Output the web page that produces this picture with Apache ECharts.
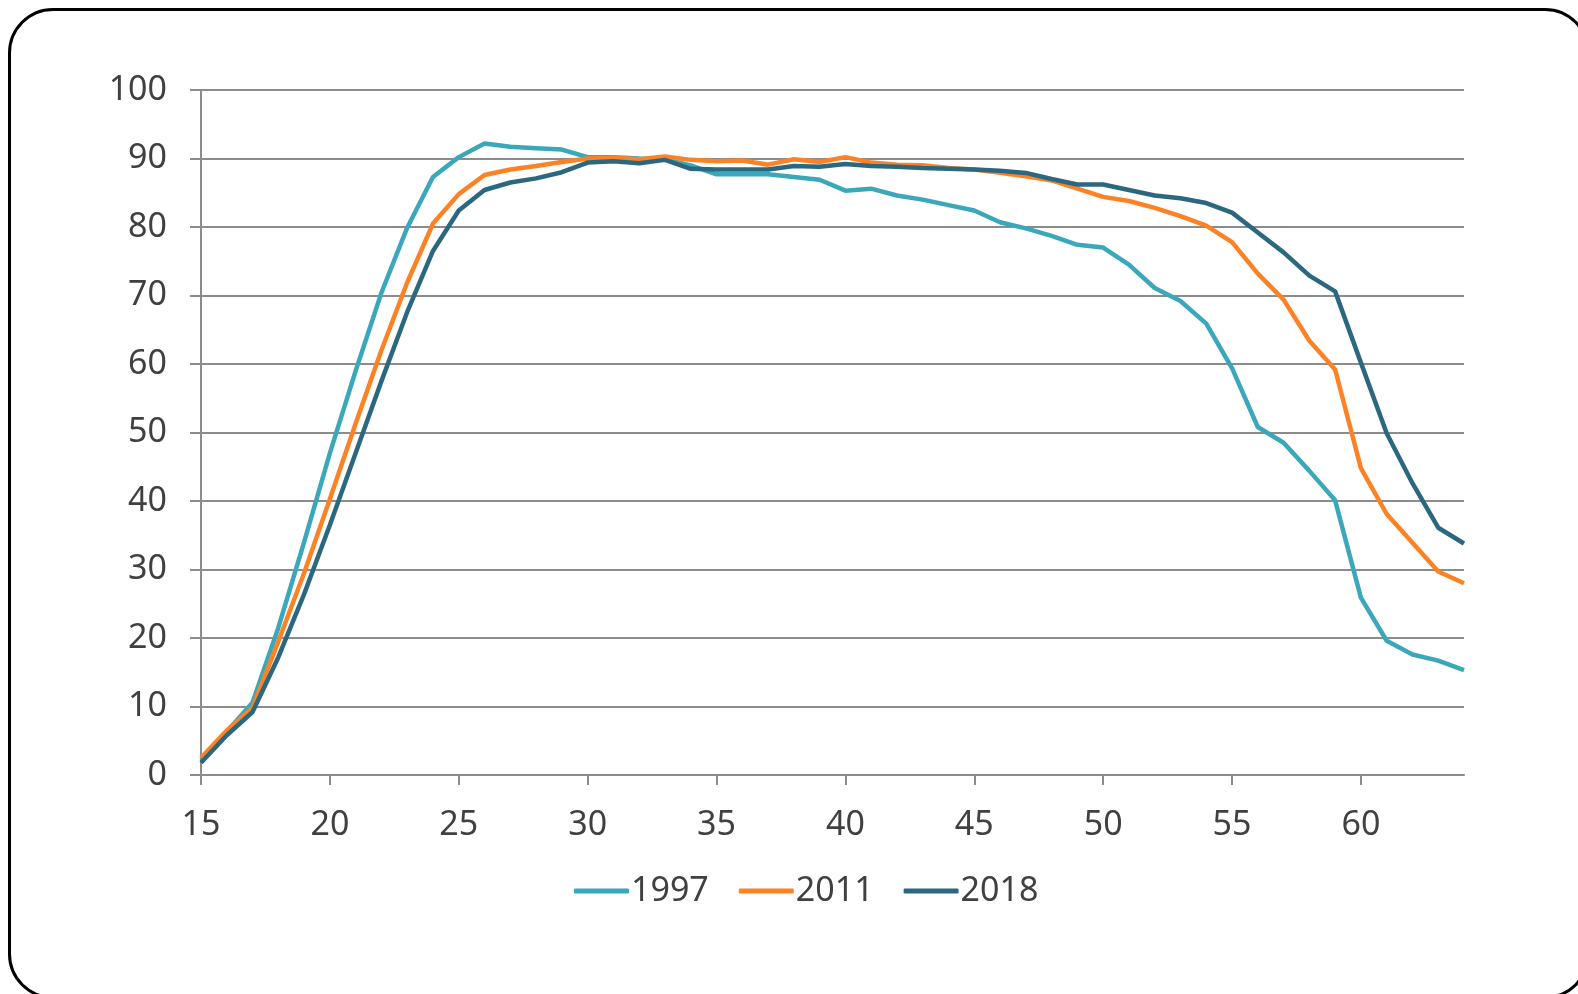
<!DOCTYPE html>
<html lang="en">

<head>
	<meta charset="utf-8">
	<title>Participation by age</title>
	<style>
		html, body { margin: 0; padding: 0; background: #fff; overflow: hidden; }
		/* rounded frame round the chart */
		.frame {
			position: absolute; left: 8px; top: 8px;
			width: 1582px; height: 991px; box-sizing: border-box;
			border: 3px solid #000; border-radius: 45px;
		}
		#panel { position: absolute; left: 0; top: 0; width: 1578px; height: 994px; }
	</style>
	<script src="https://cdn.jsdelivr.net/npm/echarts@6/dist/echarts.min.js"></script>
</head>

<body>
	<div class="frame"></div>
	<div id="panel"></div>
	<script type="text/javascript">
		// ages on the x axis
		const ages = [];
		for (let a = 15; a <= 64; a++) ages.push(String(a));

		// values, one per age 15..64
		const y1997 = [2.2, 6.3, 10.6, 21.5, 34.0, 47.0, 59.0, 70.4, 79.9, 87.3,
			90.2, 92.2, 91.7, 91.5, 91.3, 90.2, 90.2, 90.0, 89.9, 89.0,
			87.7, 87.7, 87.7, 87.3, 86.9, 85.3, 85.6, 84.6, 84.0, 83.2,
			82.4, 80.7, 79.8, 78.7, 77.4, 77.0, 74.5, 71.1, 69.2, 65.9,
			59.4, 50.8, 48.5, 44.4, 40.1, 25.9, 19.6, 17.6, 16.7, 15.3];
		const y2011 = [2.5, 6.5, 9.8, 19.5, 29.5, 40.3, 51.3, 62.0, 71.9, 80.5,
			84.8, 87.6, 88.4, 88.9, 89.5, 90.0, 90.1, 89.9, 90.3, 89.8,
			89.6, 89.7, 89.1, 89.9, 89.5, 90.2, 89.4, 89.1, 89.0, 88.6,
			88.4, 87.9, 87.4, 86.8, 85.6, 84.4, 83.8, 82.8, 81.6, 80.2,
			77.8, 73.2, 69.4, 63.4, 59.2, 44.8, 38.1, 33.9, 29.7, 28.0];
		const y2018 = [1.8, 5.8, 9.2, 17.2, 26.4, 36.5, 47.0, 57.5, 67.6, 76.5,
			82.4, 85.4, 86.5, 87.1, 88.0, 89.4, 89.6, 89.3, 89.8, 88.5,
			88.4, 88.4, 88.4, 88.9, 88.8, 89.2, 88.9, 88.8, 88.6, 88.5,
			88.4, 88.2, 87.9, 87.0, 86.2, 86.2, 85.4, 84.6, 84.2, 83.5,
			82.1, 79.2, 76.3, 72.9, 70.6, 60.2, 49.9, 42.6, 36.1, 33.8];

		const names = ['1997', '2011', '2018'];
		const colors = ['#3ba7ba', '#fd8225', '#2b6880'];
		const values = [y1997, y2011, y2018];

		const grey = '#8c8c8c';
		const textColor = '#404040';
		const font = '"Noto Sans", "Open Sans", sans-serif';

		const panel = echarts.init(document.getElementById('panel'));
		const option = {
			animation: false,
			grid: { left: 201, right: 114, top: 90, bottom: 219 },
			legend: {
				left: 569, top: 869,
				itemWidth: 55, itemHeight: 5, itemGap: 30,
				icon: 'roundRect',
				textStyle: { fontSize: 34, color: textColor, fontFamily: font, padding: [0, 0, 0, -3] },
				data: names
			},
			xAxis: {
				type: 'category',
				data: ages,
				boundaryGap: false,
				axisLine: { lineStyle: { color: grey, width: 2 } },
				axisTick: { interval: 4, length: 10, lineStyle: { color: grey, width: 2 } },
				axisLabel: { interval: 4, margin: 33, fontSize: 34, color: textColor, fontFamily: font },
				splitLine: { show: false }
			},
			yAxis: {
				type: 'value',
				min: 0, max: 100, interval: 10,
				axisLine: { show: true, lineStyle: { color: grey, width: 2 } },
				axisTick: { show: true, length: 11, lineStyle: { color: grey, width: 2 } },
				axisLabel: { margin: 34, fontSize: 34, color: textColor, fontFamily: font },
				splitLine: { lineStyle: { color: grey, width: 2 } }
			},
			series: names.map((n, i) => ({
				name: n,
				type: 'line',
				data: values[i],
				symbol: 'none',
				color: colors[i],
				lineStyle: { width: 4.5, color: colors[i] }
			}))
		};
		panel.setOption(option);
	</script>
</body>

</html>
